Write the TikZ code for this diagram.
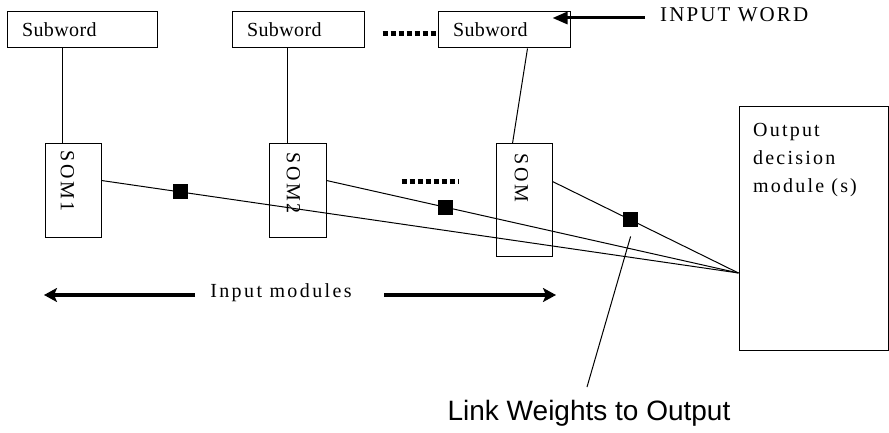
\documentclass[tikz,border=0pt]{standalone}
\usepackage{fontspec}
\setmainfont{Liberation Serif}
\newfontfamily\sansf{Liberation Sans}
\newfontfamily\wordf[LetterSpace=2]{Liberation Serif}
\newfontfamily\somf[LetterSpace=12]{Liberation Serif}
\newfontfamily\outf[LetterSpace=11]{Liberation Serif}
\newfontfamily\iwf[LetterSpace=10]{Liberation Serif}
\newfontfamily\imf[LetterSpace=12]{Liberation Serif}
\usetikzlibrary{arrows.meta,calc}
\begin{document}
\begin{tikzpicture}[x=1pt,y=-1pt,
  box/.style={draw, line width=1pt, inner sep=0pt},
  wordbox/.style={box, minimum height=36pt, align=left, inner xsep=15pt,
    font=\wordf\fontsize{20}{24}\selectfont},
  somtext/.style={rotate=-90, inner sep=0pt, font=\somf\fontsize{20}{24}\selectfont},
  thinline/.style={line width=1pt},
  wsq/.style={fill=black, draw=none, minimum size=15pt, inner sep=0pt},
  dots/.style={line width=5pt, dash pattern=on 5pt off 3pt},
  iwarrow/.style={line width=3pt, -{Triangle[length=15pt,width=12pt]}},
  imarrow/.style={line width=3.5pt, -{Stealth[length=13pt,width=14pt,inset=3pt]}}
]
\fill[white] (0,0) rectangle (889,433);
\useasboundingbox (0,0) rectangle (889,433);

% subword boxes
\node[wordbox, text width=120pt] (w1) at (82,30) {Subword};
\node[wordbox, text width=102pt] (w2) at (298,30) {Subword};
\node[wordbox, text width=102pt] (w3) at (504,30) {Subword};

% SOM boxes
\node[box, minimum width=56pt, minimum height=93pt] (s1) at (73,190.5) {};
\node[box, minimum width=57pt, minimum height=93pt] (s2) at (297.5,190.5) {};
\node[box, minimum width=56pt, minimum height=112pt] (s3) at (524,200) {};
\node[somtext] (t1) at (67.5,181) {SOM1};
\node[somtext] (t2) at (293.5,183) {SOM2};
\node[somtext] (t3) at (521.5,178) {SOM};

% output module
\node[box, minimum width=149pt, minimum height=243pt] (out) at (813.5,228.5) {};
\node[anchor=north west, align=left, inner sep=0pt,
      font=\outf\fontsize{20}{28}\selectfont] (outt) at (753,123) {Output\\decision\\module (s)};

% subword to SOM connectors
\coordinate (c1) at ([xshift=18pt]s1.north west);
\coordinate (c2) at ([xshift=19pt]s2.north west);
\draw[thinline] (c1 |- w1.south) -- (c1);
\draw[thinline] (c2 |- w2.south) -- (c2);
\draw[thinline] ([xshift=90pt]w3.south west) -- ([xshift=17pt]s3.north west);

% dotted separators
\draw[dots] ([xshift=18pt,yshift=-3.5pt]w2.east) -- ([yshift=-3.5pt]w3.west);
\coordinate (d1) at ([xshift=75pt,yshift=-38pt]s2.north east);
\coordinate (d2) at ([xshift=132pt,yshift=-38pt]s2.north east);
\draw[dots] (d1) -- (d2);

% links to output
\coordinate (conv) at ([yshift=-44.5pt]out.west);
\draw[thinline] ([yshift=-37pt]s1.north east) -- node[wsq, pos=0.124] (q1) {} (conv);
\draw[thinline] ([yshift=-37pt]s2.north east) -- node[wsq, pos=0.288] (q2) {} (conv);
\draw[thinline] ([yshift=-38pt]s3.north east) -- node[wsq, pos=0.42] (q3) {} (conv);

% input word
\node[anchor=base west, inner sep=0pt, font=\iwf\fontsize{21}{24}\selectfont] (iw) at (660,22) {INPUT WORD};
\draw[iwarrow] ([xshift=-15pt,yshift=4pt]iw.base west) -- ([xshift=-18pt,yshift=12pt]w3.east);

% input modules
\node[anchor=base, inner sep=0pt, font=\imf\fontsize{20}{24}\selectfont] (im) at (281,297) {Input modules};
\coordinate (aL1) at (195,295);
\coordinate (aL2) at (44,295);
\coordinate (aR1) at (384,295);
\coordinate (aR2) at (556,295);
\draw[imarrow] (aL1) -- (aL2);
\draw[imarrow] (aR1) -- (aR2);

% link weights label
\node[anchor=base, inner sep=0pt, font=\sansf\fontsize{28}{32}\selectfont] (lw) at (589,420) {Link Weights to Output};
\draw[thinline] ([yshift=-8.5pt]q3.south) -- ([xshift=-2pt,yshift=12.5pt]lw.north);
\end{tikzpicture}
\end{document}
